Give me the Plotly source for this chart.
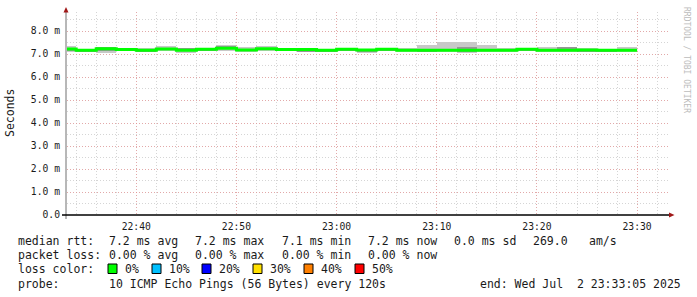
import plotly.graph_objects as go

# ---------------- data ----------------
step_start = [
    "2025-07-02 22:32:00", "2025-07-02 22:34:00", "2025-07-02 22:36:00", "2025-07-02 22:38:00",
    "2025-07-02 22:40:00", "2025-07-02 22:42:00", "2025-07-02 22:44:00", "2025-07-02 22:46:00",
    "2025-07-02 22:48:00", "2025-07-02 22:50:00", "2025-07-02 22:52:00", "2025-07-02 22:54:00",
    "2025-07-02 22:56:00", "2025-07-02 22:58:00", "2025-07-02 23:00:00", "2025-07-02 23:02:00",
    "2025-07-02 23:04:00", "2025-07-02 23:06:00", "2025-07-02 23:08:00", "2025-07-02 23:10:00",
    "2025-07-02 23:12:00", "2025-07-02 23:14:00", "2025-07-02 23:16:00", "2025-07-02 23:18:00",
    "2025-07-02 23:20:00", "2025-07-02 23:22:00", "2025-07-02 23:24:00", "2025-07-02 23:26:00",
    "2025-07-02 23:28:00",
]
last_end = "2025-07-02 23:30:00"

# median rtt (ms)
median_ms = [7.22, 7.16, 7.23, 7.20, 7.16, 7.22, 7.16, 7.21, 7.25, 7.17,
             7.23, 7.20, 7.20, 7.16, 7.21, 7.17, 7.21, 7.16, 7.16, 7.16,
             7.16, 7.16, 7.16, 7.21, 7.16, 7.16, 7.17, 7.16, 7.16]
# outer smoke (light) min / max (ms)
smoke_lo = [7.10, 7.10, 7.05, 7.15, 7.08, 7.12, 7.05, 7.12, 7.15, 7.10,
            7.12, 7.15, 7.13, 7.08, 7.15, 7.06, 7.15, 7.10, 7.07, 7.07,
            7.05, 7.10, 7.10, 7.13, 7.10, 7.08, 7.07, 7.08, 7.08]
smoke_hi = [7.36, 7.20, 7.30, 7.25, 7.27, 7.35, 7.27, 7.28, 7.38, 7.32,
            7.35, 7.27, 7.25, 7.20, 7.27, 7.22, 7.28, 7.26, 7.40, 7.52,
            7.52, 7.40, 7.27, 7.28, 7.30, 7.30, 7.26, 7.20, 7.30]
# inner smoke (dark) range (ms)
dark_lo = [7.15, 7.12, 7.15, 7.17, 7.12, 7.17, 7.12, 7.17, 7.20, 7.13,
           7.18, 7.17, 7.10, 7.12, 7.17, 7.10, 7.17, 7.12, 7.08, 7.12,
           7.08, 7.12, 7.12, 7.17, 7.12, 7.12, 7.08, 7.12, 7.12]
dark_hi = [7.27, 7.20, 7.30, 7.23, 7.20, 7.27, 7.27, 7.25, 7.36, 7.22,
           7.28, 7.25, 7.24, 7.20, 7.25, 7.20, 7.25, 7.22, 7.20, 7.22,
           7.30, 7.22, 7.22, 7.25, 7.22, 7.30, 7.22, 7.20, 7.22]

x_tickvals = ["2025-07-02 22:40", "2025-07-02 22:50", "2025-07-02 23:00",
              "2025-07-02 23:10", "2025-07-02 23:20", "2025-07-02 23:30"]
x_ticktext = ["22:40", "22:50", "23:00", "23:10", "23:20", "23:30"]
y_tickvals = [0, 1, 2, 3, 4, 5, 6, 7, 8]
y_ticktext = ["0.0", "1.0 m", "2.0 m", "3.0 m", "4.0 m", "5.0 m", "6.0 m", "7.0 m", "8.0 m"]

loss_labels = ["0%", "10%", "20%", "30%", "40%", "50%"]
loss_colors = ["#00ff00", "#00c0ff", "#0000ff", "#ffe000", "#ff8000", "#ff0000"]

x_range = ["2025-07-02 22:33:05", "2025-07-02 23:33:05"]

# ---------------- geometry helpers ----------------
L, R, T, B = 67, 668, 12, 215
W, H = 697, 297
def px(x):
    return (x - L) / (R - L)
def py(y):
    return (B - y) / (B - T)

MONO = "DejaVu Sans Mono"
TXT = "#1a1a1a"

fig = go.Figure()
fig.add_trace(go.Bar(
    x=step_start, base=smoke_lo,
    y=[h - l for h, l in zip(smoke_hi, smoke_lo)],
    width=120000, offset=0, marker_color="#c8c8c8", marker_line_width=0,
    hoverinfo="skip", showlegend=False))
fig.add_trace(go.Bar(
    x=step_start, base=dark_lo,
    y=[h - l for h, l in zip(dark_hi, dark_lo)],
    width=120000, offset=0, marker_color="#969696", marker_line_width=0,
    hoverinfo="skip", showlegend=False))
fig.add_trace(go.Scatter(
    x=step_start + [last_end], y=median_ms + [median_ms[-1]],
    mode="lines", line=dict(color="#00ff00", width=3, shape="hv"),
    showlegend=False, hoverinfo="skip"))

grid_major = "rgba(235,140,140,0.6)"
grid_minor = "rgba(185,185,185,0.6)"

fig.update_layout(
    width=W, height=H,
    margin=dict(l=L, r=W - R, t=T, b=H - B),
    paper_bgcolor="white", plot_bgcolor="white",
    barmode="overlay", bargap=0,
    showlegend=False,
    xaxis=dict(
        type="date", range=x_range,
        tickmode="array", tickvals=x_tickvals, ticktext=x_ticktext,
        tickfont=dict(family=MONO, size=9.7, color=TXT),
        ticks="", ticklabelstandoff=4,
        showgrid=True, gridcolor=grid_major, griddash="1px,2px", gridwidth=1,
        minor=dict(showgrid=True, dtick=120000, tick0="2025-07-02 22:34:00",
                   gridcolor=grid_minor, griddash="1px,2px", gridwidth=1),
        showline=False, zeroline=False, fixedrange=True,
    ),
    yaxis=dict(
        range=[0, (B - T) / 23.0],
        tickmode="array", tickvals=y_tickvals, ticktext=y_ticktext,
        tickfont=dict(family=MONO, size=9.7, color=TXT),
        ticks="", ticklabelstandoff=6,
        showgrid=True, gridcolor=grid_major, griddash="1px,2px", gridwidth=1,
        minor=dict(showgrid=True, dtick=0.5, tick0=0,
                   gridcolor=grid_minor, griddash="1px,2px", gridwidth=1),
        showline=False, zeroline=False, fixedrange=True,
    ),
)

shapes = []
# axes lines
shapes.append(dict(type="line", xref="paper", yref="paper",
                   x0=px(66), x1=px(66), y0=py(219), y1=py(10),
                   line=dict(color="#707070", width=1)))
shapes.append(dict(type="line", xref="paper", yref="paper",
                   x0=px(62), x1=px(669), y0=py(215), y1=py(215),
                   line=dict(color="#000000", width=1.5)))
# arrows
shapes.append(dict(type="path", xref="paper", yref="paper",
                   path=f"M {px(63.5)} {py(12.5)} L {px(68.5)} {py(12.5)} L {px(66)} {py(7)} Z",
                   fillcolor="#a01818", line=dict(width=0)))
shapes.append(dict(type="path", xref="paper", yref="paper",
                   path=f"M {px(669)} {py(212.5)} L {px(669)} {py(217.5)} L {px(674.5)} {py(215)} Z",
                   fillcolor="#a01818", line=dict(width=0)))

annotations = []
def txt(x, y, s, size=11.5, color=TXT, anchor="left"):
    annotations.append(dict(x=px(x), y=py(y), xref="paper", yref="paper",
                            text=s.replace(" ", "\u00a0"), showarrow=False,
                            xanchor=anchor, yanchor="middle",
                            font=dict(family=MONO, size=size, color=color)))

# y-axis title
annotations.append(dict(x=px(10), y=py(113), xref="paper", yref="paper",
                        text="Seconds", showarrow=False, textangle=-90,
                        xanchor="center", yanchor="middle",
                        font=dict(family=MONO, size=11.5, color=TXT)))
# watermark
annotations.append(dict(x=px(687), y=py(60), xref="paper", yref="paper",
                        text="RRDTOOL / TOBI OETIKER", showarrow=False, textangle=90,
                        xanchor="center", yanchor="middle",
                        font=dict(family=MONO, size=8.0, color="#bcbcbc")))

y1, y2, y3, y4 = 241, 255, 269, 284
txt(16, y1, "median rtt:")
txt(107, y1, "7.2 ms avg")
txt(193, y1, "7.2 ms max")
txt(280, y1, "7.1 ms min")
txt(366, y1, "7.2 ms now")
txt(452, y1, "0.0 ms sd")
txt(531, y1, "269.0")
txt(587, y1, "am/s")

txt(16, y2, "packet loss:")
txt(107, y2, "0.00 % avg")
txt(193, y2, "0.00 % max")
txt(280, y2, "0.00 % min")
txt(366, y2, "0.00 % now")

txt(16, y3, "loss color:")
box_x = [108, 152, 202, 253, 304, 355]
for bx, lab, col in zip(box_x, loss_labels, loss_colors):
    shapes.append(dict(type="rect", xref="paper", yref="paper",
                       x0=px(bx), x1=px(bx + 9), y0=py(y3 - 5), y1=py(y3 + 4.5),
                       fillcolor=col, line=dict(color="#000", width=1)))
    txt(bx + 15, y3, lab)

txt(16, y4, "probe:")
txt(107, y4, "10 ICMP Echo Pings (56 Bytes) every 120s")
txt(478, y4, "end: Wed Jul  2 23:33:05 2025")

fig.update_layout(shapes=shapes, annotations=annotations)
fig.write_html("out.html")
